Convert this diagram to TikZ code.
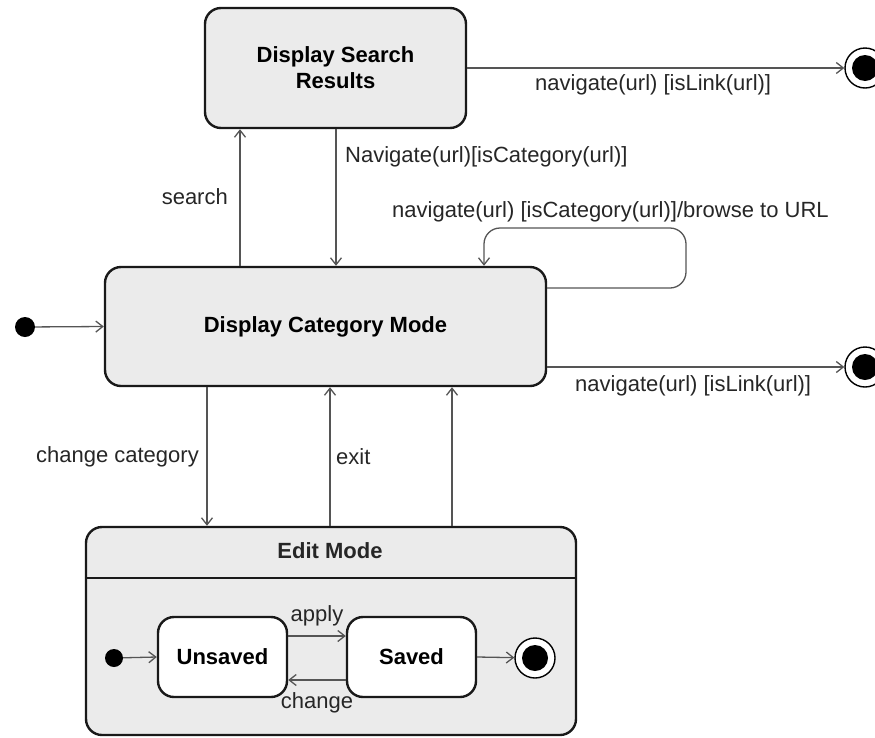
\documentclass[tikz,border=0pt]{standalone}
\usepackage{fontspec}
\setmainfont{Liberation Sans}
\usetikzlibrary{arrows.meta}
\definecolor{boxfill}{HTML}{EBEBEB}
\definecolor{edgecol}{HTML}{555555}
\begin{document}
\begin{tikzpicture}[x=1pt,y=-1pt,
  every node/.style={font=\fontsize{22}{26}\selectfont},
  state/.style={draw=black!90,line width=2.4pt,fill=boxfill,rounded corners=16pt,inner sep=0pt,align=center,font=\fontsize{22}{26}\selectfont\bfseries},
  substate/.style={state,fill=white},
  tr/.style={draw=edgecol,line width=1.3pt,-{Straight Barb[length=7pt,width=11pt,line width=1.3pt]}},
  initdot/.style={circle,fill=black,inner sep=0pt},
  finalst/.style={circle,draw=black,line width=1.4pt,fill=white,inner sep=0pt,minimum size=40pt},
  lbl/.style={inner sep=0pt,text=black!85}
]
\useasboundingbox (0,0) rectangle (875,737);
% states
\node[state,minimum width=261pt,minimum height=120pt] (dsr) at (335.5,68) {Display Search\\Results};
\node[state,minimum width=441pt,minimum height=119pt] (dcm) at (325.5,326.5) {Display Category Mode};
\node[state,minimum width=490pt,minimum height=208pt] (em) at (331,631) {};
\node[lbl,font=\fontsize{22}{26}\selectfont\bfseries] (emt) at (330,551) {Edit Mode};
\draw[black!90,line width=2.4pt] (em.west |- 0,578) -- (em.east |- 0,578);
\node[substate,minimum width=129pt,minimum height=80pt] (us) at (222.5,657) {Unsaved};
\node[substate,minimum width=129pt,minimum height=80pt] (sv) at (411.5,657) {Saved};
% pseudo states
\node[initdot,minimum size=20pt] (i1) at (25,327) {};
\node[initdot,minimum size=18pt] (i2) at (114,658) {};
\node[finalst] (f1) at (865,68) {};
\fill[black] (f1.center) circle (13pt);
\node[finalst] (f2) at (865,367) {};
\fill[black] (f2.center) circle (13pt);
\node[finalst] (f3) at (535,658) {};
\fill[black] (f3.center) circle (13pt);
% transitions
\draw[tr] (dsr.east) -- (f1);
\draw[tr] ([xshift=-85.5pt]dcm.north) -- ([xshift=-95.5pt]dsr.south);
\draw[tr] ([xshift=0.5pt]dsr.south) -- ([xshift=10.5pt]dcm.north);
\draw[tr,rounded corners=16pt] ([yshift=38.5pt]dcm.east) -- (686,288) -- (686,228) -- (484,228) -- ([xshift=158.5pt]dcm.north);
\draw[tr] ([yshift=-40.5pt]dcm.east) -- (f2);
\draw[tr] (i1) -- (dcm.west);
\draw[tr] ([xshift=-118.5pt]dcm.south) -- ([xshift=-124pt]em.north);
\draw[tr] ([xshift=-1pt]em.north) -- ([xshift=4.5pt]dcm.south);
\draw[tr] ([xshift=121pt]em.north) -- ([xshift=126.5pt]dcm.south);
\draw[tr] (i2) -- (us.west);
\draw[tr] ([yshift=21pt]us.east) -- ([yshift=21pt]sv.west);
\draw[tr] ([yshift=-23pt]sv.west) -- ([yshift=-23pt]us.east);
\draw[tr] (sv.east) -- (f3);
% labels
\node[lbl,anchor=west] (l1) at (535,85) {navigate(url) [isLink(url)]};
\node[lbl,anchor=east] (l2) at (228,197) {search};
\node[lbl,anchor=west] (l3) at (345,157) {Navigate(url)[isCategory(url)]};
\node[lbl,anchor=west] (l4) at (392,212) {navigate(url) [isCategory(url)]/browse to URL};
\node[lbl,anchor=west] (l5) at (575,386) {navigate(url) [isLink(url)]};
\node[lbl,anchor=east] (l6) at (199,457) {change category};
\node[lbl,anchor=west] (l7) at (336,457) {exit};
\node[lbl] (l8) at (317,616) {apply};
\node[lbl] (l9) at (317,703) {change};
\end{tikzpicture}
\end{document}
